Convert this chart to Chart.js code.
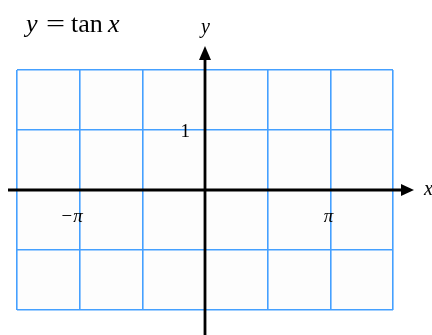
<!DOCTYPE html>
<html>
<head>
<meta charset="utf-8">
<script src="https://cdn.jsdelivr.net/npm/chart.js@4"></script>
<style>
html,body{margin:0;padding:0;background:#fff;}
#wrap{position:relative;width:432px;height:335px;}
</style>
</head>
<body>
<div id="wrap"><canvas id="c" width="432" height="335"></canvas></div>
<script>
// Grid ticks (multiples of pi on x, integers on y)
const xGridMultiples = [-1.5, -1, -0.5, 0, 0.5, 1, 1.5];
const xGridTicks = xGridMultiples.map(m => m * Math.PI);
const yGridTicks = [-2, -1, 0, 1, 2];
// Labelled ticks
const xLabelValues = [-Math.PI, Math.PI];
const xLabelTexts = ['\u2212\u03C0', '\u03C0'];
const yLabelValues = [1];
const yLabelTexts = ['1'];
// Series (empty: the exercise grid has no curve drawn)
const seriesX = [];
const seriesY = [];

const SERIF = '"Liberation Serif", "DejaVu Serif", serif';
const gridColor = '#45a0ff';

const bgPlugin = {
  id: 'bgPlugin',
  beforeDraw(chart) {
    const a = chart.chartArea, ctx = chart.ctx;
    ctx.save();
    ctx.fillStyle = '#fdfdfd';
    ctx.fillRect(a.left, a.top, a.right - a.left, a.bottom - a.top);
    ctx.restore();
  }
};

const axesPlugin = {
  id: 'axesPlugin',
  afterDraw(chart) {
    const ctx = chart.ctx;
    const xs = chart.scales.x, ys = chart.scales.y;
    const x0 = xs.getPixelForValue(0);
    const y0 = ys.getPixelForValue(0);
    ctx.save();
    ctx.strokeStyle = '#000';
    ctx.fillStyle = '#000';
    ctx.lineWidth = 2.8;
    // x axis
    ctx.beginPath();
    ctx.moveTo(8, y0);
    ctx.lineTo(404, y0);
    ctx.stroke();
    ctx.beginPath();
    ctx.moveTo(414, y0);
    ctx.lineTo(401, y0 - 6);
    ctx.lineTo(401, y0 + 6);
    ctx.closePath();
    ctx.fill();
    // y axis
    ctx.beginPath();
    ctx.moveTo(x0, 335);
    ctx.lineTo(x0, 58);
    ctx.stroke();
    ctx.beginPath();
    ctx.moveTo(x0, 46);
    ctx.lineTo(x0 - 6, 60);
    ctx.lineTo(x0 + 6, 60);
    ctx.closePath();
    ctx.fill();

    // tick labels
    ctx.textBaseline = 'alphabetic';
    ctx.textAlign = 'right';
    ctx.font = 'italic 19px ' + SERIF;
    xLabelValues.forEach((v, i) => {
      ctx.fillText(xLabelTexts[i], xs.getPixelForValue(v) + 3, y0 + 32);
    });
    ctx.font = '19px ' + SERIF;
    yLabelValues.forEach((v, i) => {
      ctx.fillText(yLabelTexts[i], x0 - 15, ys.getPixelForValue(v) + 7);
    });

    // axis names
    ctx.textAlign = 'left';
    ctx.font = 'italic 20px ' + SERIF;
    ctx.fillText('y', x0 - 4, 33);
    ctx.fillText('x', 424, y0 + 5);

    // title: y = tan x
    const ty = 32;
    ctx.font = 'italic 26px ' + SERIF;
    ctx.fillText('y', 26, ty);
    ctx.save();
    ctx.font = '26px ' + SERIF;
    ctx.translate(46, ty);
    ctx.scale(1.3, 1);
    ctx.fillText('=', 0, 0);
    ctx.restore();
    ctx.font = '26px ' + SERIF;
    ctx.fillText('tan', 71, ty);
    ctx.font = 'italic 26px ' + SERIF;
    ctx.fillText('x', 108, ty);
    ctx.restore();
  }
};

new Chart(document.getElementById('c'), {
  type: 'scatter',
  data: {
    datasets: [{
      data: seriesX.map((x, i) => ({x: x, y: seriesY[i]})),
      borderColor: '#000', showLine: true, pointRadius: 0
    }]
  },
  options: {
    responsive: false,
    animation: false,
    devicePixelRatio: 1,
    layout: { padding: { left: 17, right: 39, top: 70, bottom: 25 } },
    plugins: { legend: { display: false }, tooltip: { enabled: false }, title: { display: false } },
    scales: {
      x: {
        type: 'linear',
        min: xGridTicks[0], max: xGridTicks[xGridTicks.length - 1],
        afterBuildTicks(s) { s.ticks = xGridTicks.map(v => ({value: v})); },
        afterFit(s) { s.height = 0; },
        ticks: { display: false },
        border: { display: false },
        grid: { color: gridColor, lineWidth: 1.6, drawTicks: false }
      },
      y: {
        type: 'linear',
        min: yGridTicks[0], max: yGridTicks[yGridTicks.length - 1],
        afterBuildTicks(s) { s.ticks = yGridTicks.map(v => ({value: v})); },
        afterFit(s) { s.width = 0; },
        ticks: { display: false },
        border: { display: false },
        grid: { color: gridColor, lineWidth: 1.6, drawTicks: false }
      }
    }
  },
  plugins: [bgPlugin, axesPlugin]
});
</script>
</body>
</html>
